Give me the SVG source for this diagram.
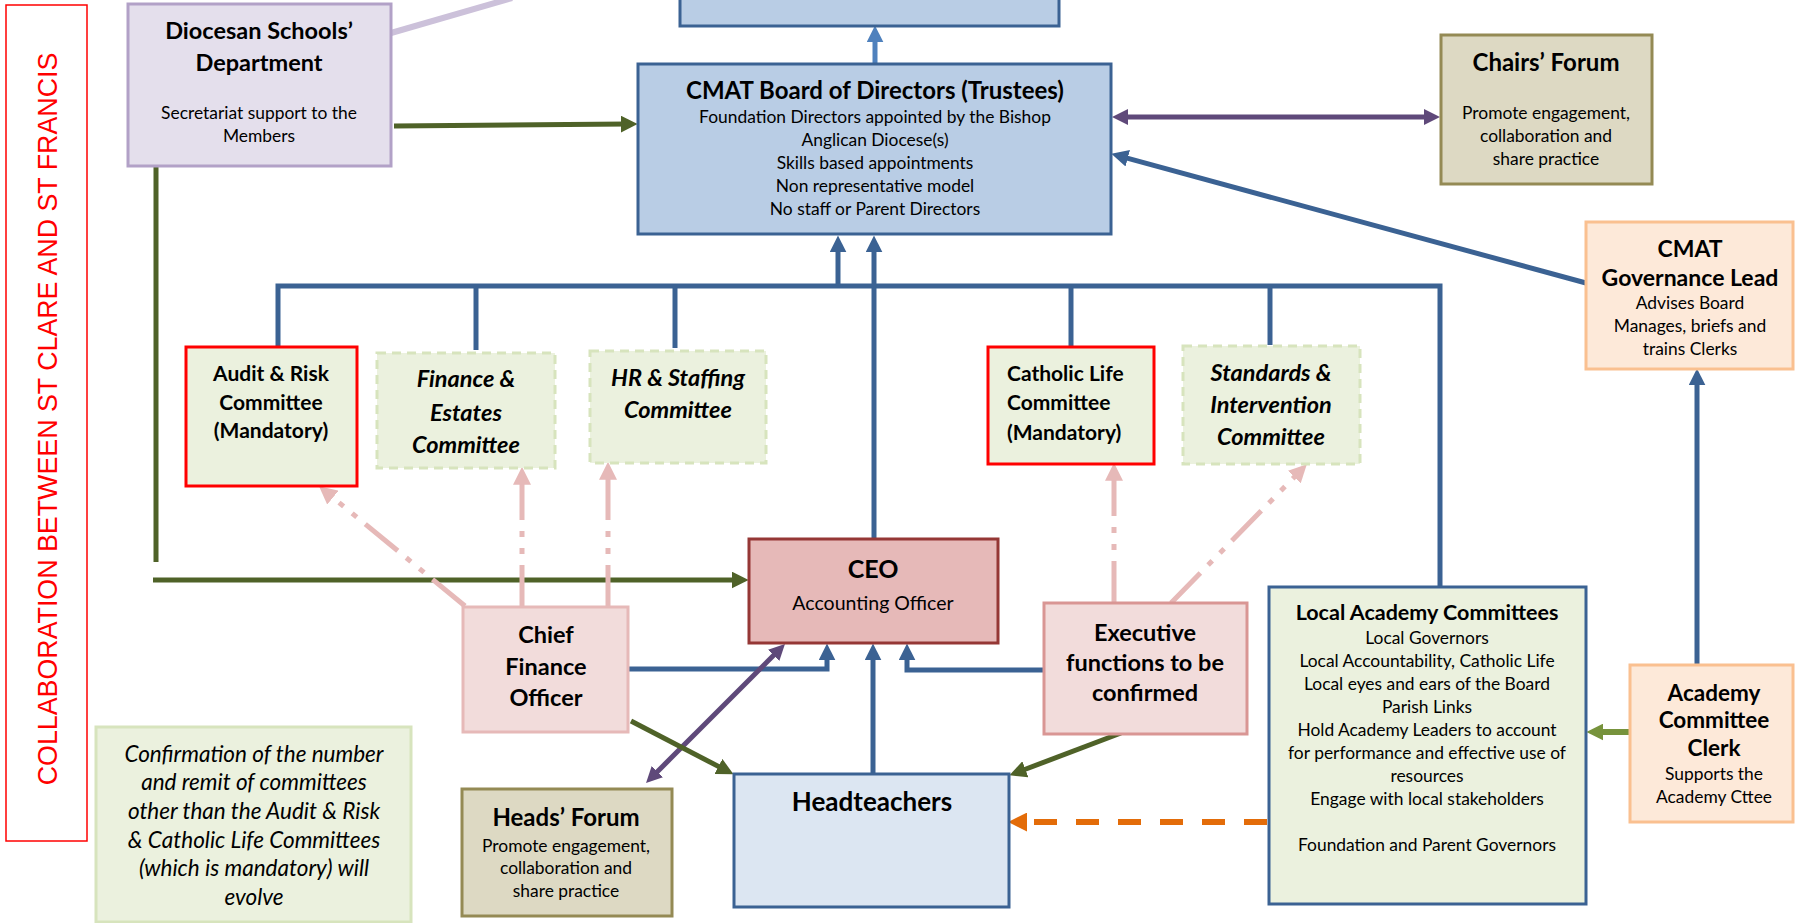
<svg xmlns="http://www.w3.org/2000/svg" width="1795" height="923" viewBox="0 0 1795 923">
<defs>
<style>
.t{font-family:Lato,"Liberation Sans",sans-serif;fill:#000;text-anchor:middle}
.b{font-weight:bold}
.i{font-style:italic}
.s16{font-size:17.4px}
.box{stroke-width:3}
.blue{fill:none;stroke:#3B6293;stroke-width:5}
.green{fill:none;stroke:#4F6228;stroke-width:5}
.purple{fill:none;stroke:#5F497A;stroke-width:5}
.pink{fill:none;stroke:#E6B9B8;stroke-width:5;stroke-dasharray:42 11 6 11 6 11}
</style>
<marker id="mBlue" viewBox="0 0 16 16" refX="6" refY="8" markerWidth="17" markerHeight="17" markerUnits="userSpaceOnUse" orient="auto-start-reverse"><path d="M0,0 L16,8 L0,16 z" fill="#3B6293"/></marker>
<marker id="mLBlue" viewBox="0 0 16 16" refX="6" refY="8" markerWidth="17" markerHeight="17" markerUnits="userSpaceOnUse" orient="auto-start-reverse"><path d="M0,0 L16,8 L0,16 z" fill="#4F81BD"/></marker>
<marker id="mGreen" viewBox="0 0 16 16" refX="6" refY="8" markerWidth="17" markerHeight="17" markerUnits="userSpaceOnUse" orient="auto-start-reverse"><path d="M0,0 L16,8 L0,16 z" fill="#4F6228"/></marker>
<marker id="mLGreen" viewBox="0 0 16 16" refX="6" refY="8" markerWidth="17" markerHeight="17" markerUnits="userSpaceOnUse" orient="auto-start-reverse"><path d="M0,0 L16,8 L0,16 z" fill="#77933C"/></marker>
<marker id="mPurple" viewBox="0 0 16 16" refX="6" refY="8" markerWidth="16" markerHeight="16" markerUnits="userSpaceOnUse" orient="auto-start-reverse"><path d="M0,0 L16,8 L0,16 z" fill="#5F497A"/></marker>
<marker id="mPink" viewBox="0 0 16 16" refX="6" refY="8" markerWidth="18" markerHeight="18" markerUnits="userSpaceOnUse" orient="auto-start-reverse"><path d="M0,0 L16,8 L0,16 z" fill="#E6B9B8"/></marker>
<marker id="mOrange" viewBox="0 0 16 16" refX="6" refY="8" markerWidth="19" markerHeight="19" markerUnits="userSpaceOnUse" orient="auto-start-reverse"><path d="M0,0 L16,8 L0,16 z" fill="#E36C09"/></marker>
</defs>
<rect width="1795" height="923" fill="#FFFFFF"/>

<g id="connectors">
<line x1="391" y1="33" x2="512" y2="-2" stroke="#CCC1DA" stroke-width="6"/>
<line x1="875" y1="64" x2="875" y2="36" stroke="#4F81BD" stroke-width="5" marker-end="url(#mLBlue)"/>
<line x1="394" y1="126" x2="627" y2="124" class="green" marker-end="url(#mGreen)"/>
<line x1="1122" y1="117" x2="1430" y2="117" class="purple" marker-start="url(#mPurple)" marker-end="url(#mPurple)"/>
<line x1="1586" y1="283" x2="1121.6" y2="156.6" class="blue" marker-end="url(#mBlue)"/>
<path d="M278,346 V286 H1440 V587" class="blue"/>
<line x1="476" y1="286" x2="476" y2="350" class="blue"/>
<line x1="675" y1="286" x2="675" y2="348" class="blue"/>
<line x1="1071" y1="286" x2="1071" y2="347" class="blue"/>
<line x1="1270" y1="286" x2="1270" y2="345" class="blue"/>
<line x1="838" y1="286" x2="838" y2="246" class="blue" marker-end="url(#mBlue)"/>
<line x1="874" y1="539" x2="874" y2="246" class="blue" marker-end="url(#mBlue)"/>
<line x1="156" y1="166" x2="156" y2="562" class="green"/>
<line x1="153" y1="580" x2="738" y2="580" class="green" marker-end="url(#mGreen)"/>
<line x1="465" y1="606" x2="327.7" y2="493.3" class="pink" marker-end="url(#mPink)"/>
<line x1="522" y1="607" x2="522" y2="478" class="pink" marker-end="url(#mPink)"/>
<line x1="608" y1="607" x2="608" y2="473" class="pink" marker-end="url(#mPink)"/>
<line x1="1114" y1="603" x2="1114" y2="474" class="pink" marker-end="url(#mPink)"/>
<line x1="1171" y1="603" x2="1299" y2="472.2" class="pink" marker-end="url(#mPink)"/>
<path d="M628,669 H827 V654" class="blue" marker-end="url(#mBlue)"/>
<line x1="873" y1="774" x2="873" y2="654" class="blue" marker-end="url(#mBlue)"/>
<path d="M1044,670 H907 V654" class="blue" marker-end="url(#mBlue)"/>
<line x1="653.1" y1="775.9" x2="777.9" y2="651.1" class="purple" marker-start="url(#mPurple)" marker-end="url(#mPurple)"/>
<line x1="631" y1="721" x2="724.1" y2="769.4" class="green" marker-end="url(#mGreen)"/>
<line x1="1121" y1="733" x2="1019.4" y2="771.5" class="green" marker-end="url(#mGreen)"/>
<line x1="1267" y1="822" x2="1020" y2="822" stroke="#E36C09" stroke-width="6" stroke-dasharray="23 19" marker-end="url(#mOrange)"/>
<line x1="1629" y1="732" x2="1597" y2="732" stroke="#77933C" stroke-width="6" marker-end="url(#mLGreen)"/>
<line x1="1697" y1="664" x2="1697" y2="379" class="blue" marker-end="url(#mBlue)"/>
</g>

<g id="collab">
<rect x="6" y="5" width="81" height="836" fill="none" stroke="#FF0000" stroke-width="1.5"/>
<g transform="translate(57,419) rotate(-90)">
<text x="0" y="0" font-family="'Liberation Sans',sans-serif" font-size="26.8" fill="#FF0000" text-anchor="middle">COLLABORATION BETWEEN ST CLARE AND ST FRANCIS</text>
</g>
</g>

<g id="top-box">
<rect x="680" y="-4" width="379" height="30" fill="#B9CDE5" stroke="#3B6293" class="box"/>
</g>

<g id="diocesan">
<rect x="128" y="4" width="263" height="162" fill="#E4DFEC" stroke="#B2A1C7" class="box"/>
<text class="t b" font-size="23.5" x="259" y="39">Diocesan Schools’</text>
<text class="t b" font-size="23.5" x="259" y="71">Department</text>
<text class="t s16" x="259" y="119">Secretariat support to the</text>
<text class="t s16" x="259" y="142">Members</text>
</g>

<g id="board">
<rect x="638" y="64" width="473" height="170" fill="#B9CDE5" stroke="#3B6293" class="box"/>
<text class="t b" font-size="24" x="875" y="99">CMAT Board of Directors (Trustees)</text>
<text class="t s16" x="875" y="123">Foundation Directors appointed by the Bishop</text>
<text class="t s16" x="875" y="146">Anglican Diocese(s)</text>
<text class="t s16" x="875" y="169">Skills based appointments</text>
<text class="t s16" x="875" y="192">Non representative model</text>
<text class="t s16" x="875" y="215">No staff or Parent Directors</text>
</g>

<g id="chairs-forum">
<rect x="1441" y="35" width="211" height="149" fill="#DDD9C3" stroke="#948A54" class="box"/>
<text class="t b" font-size="24" x="1546" y="71">Chairs’ Forum</text>
<text class="t s16" x="1546" y="119">Promote engagement,</text>
<text class="t s16" x="1546" y="142">collaboration and</text>
<text class="t s16" x="1546" y="165">share practice</text>
</g>

<g id="gov-lead">
<rect x="1586" y="222" width="207" height="147" fill="#FDE9D9" stroke="#FAC090" class="box"/>
<text class="t b" font-size="23" x="1690" y="257">CMAT</text>
<text class="t b" font-size="23" x="1690" y="286">Governance Lead</text>
<text class="t s16" x="1690" y="309">Advises Board</text>
<text class="t s16" x="1690" y="332">Manages, briefs and</text>
<text class="t s16" x="1690" y="355">trains Clerks</text>
</g>

<g id="audit-risk">
<rect x="186" y="347" width="171" height="139" fill="#EBF1DE" stroke="#FF0000" class="box"/>
<text class="t b" font-size="21" x="271" y="381">Audit &amp; Risk</text>
<text class="t b" font-size="21" x="271" y="410">Committee</text>
<text class="t b" font-size="21" x="271" y="438">(Mandatory)</text>
</g>

<g id="finance-estates">
<rect x="377" y="353" width="178" height="115" fill="#EBF1DE" stroke="#D7E4BD" stroke-dasharray="9 6" class="box"/>
<text class="t b i" font-size="23.5" x="466" y="387">Finance &amp;</text>
<text class="t b i" font-size="23.5" x="466" y="421">Estates</text>
<text class="t b i" font-size="23.5" x="466" y="453">Committee</text>
</g>

<g id="hr-staffing">
<rect x="590" y="351" width="176" height="112" fill="#EBF1DE" stroke="#D7E4BD" stroke-dasharray="9 6" class="box"/>
<text class="t b i" font-size="23.5" x="678" y="386">HR &amp; Staffing</text>
<text class="t b i" font-size="23.5" x="678" y="418">Committee</text>
</g>

<g id="catholic-life">
<rect x="988" y="347" width="166" height="117" fill="#EBF1DE" stroke="#FF0000" class="box"/>
<text class="t b" font-size="21" x="1007" y="381" style="text-anchor:start">Catholic Life</text>
<text class="t b" font-size="21" x="1007" y="410" style="text-anchor:start">Committee</text>
<text class="t b" font-size="21" x="1007" y="440" style="text-anchor:start">(Mandatory)</text>
</g>

<g id="standards">
<rect x="1183" y="346" width="177" height="118" fill="#EBF1DE" stroke="#D7E4BD" stroke-dasharray="9 6" class="box"/>
<text class="t b i" font-size="23.5" x="1271" y="381">Standards &amp;</text>
<text class="t b i" font-size="23.5" x="1271" y="413">Intervention</text>
<text class="t b i" font-size="23.5" x="1271" y="445">Committee</text>
</g>

<g id="ceo">
<rect x="749" y="539" width="249" height="104" fill="#E6B9B8" stroke="#953735" class="box"/>
<text class="t b" font-size="25" x="873" y="578">CEO</text>
<text class="t" font-size="19.5" x="873" y="610">Accounting Officer</text>
</g>

<g id="cfo">
<rect x="463" y="607" width="165" height="125" fill="#F2DCDB" stroke="#E6B9B8" class="box"/>
<text class="t b" font-size="23.5" x="546" y="643">Chief</text>
<text class="t b" font-size="23.5" x="546" y="675">Finance</text>
<text class="t b" font-size="23.5" x="546" y="706">Officer</text>
</g>

<g id="executive">
<rect x="1044" y="603" width="203" height="131" fill="#F2DCDB" stroke="#D99694" class="box"/>
<text class="t b" font-size="23.5" x="1145" y="641">Executive</text>
<text class="t b" font-size="23.5" x="1145" y="671">functions to be</text>
<text class="t b" font-size="23.5" x="1145" y="701">confirmed</text>
</g>

<g id="headteachers">
<rect x="734" y="774" width="275" height="133" fill="#DCE6F2" stroke="#3B6293" class="box"/>
<text class="t b" font-size="26" x="872" y="811">Headteachers</text>
</g>

<g id="heads-forum">
<rect x="462" y="789" width="210" height="127" fill="#DDD9C3" stroke="#948A54" class="box"/>
<text class="t b" font-size="24" x="566" y="826">Heads’ Forum</text>
<text class="t s16" x="566" y="852">Promote engagement,</text>
<text class="t s16" x="566" y="874">collaboration and</text>
<text class="t s16" x="566" y="897">share practice</text>
</g>

<g id="confirmation-note">
<rect x="96" y="727" width="315" height="195" fill="#EBF1DE" stroke="#D7E4BD" class="box"/>
<text class="t i" font-size="22.5" x="254" y="762">Confirmation of the number</text>
<text class="t i" font-size="22.5" x="254" y="790">and remit of committees</text>
<text class="t i" font-size="22.5" x="254" y="819">other than the Audit &amp; Risk</text>
<text class="t i" font-size="22.5" x="254" y="848">&amp; Catholic Life Committees</text>
<text class="t i" font-size="22.5" x="254" y="876">(which is mandatory) will</text>
<text class="t i" font-size="22.5" x="254" y="905">evolve</text>
</g>

<g id="local-academy">
<rect x="1269" y="587" width="317" height="317" fill="#EBF1DE" stroke="#3B6293" class="box"/>
<text class="t b" font-size="21.5" x="1427" y="620">Local Academy Committees</text>
<text class="t s16" x="1427" y="644">Local Governors</text>
<text class="t s16" x="1427" y="667">Local Accountability, Catholic Life</text>
<text class="t s16" x="1427" y="690">Local eyes and ears of the Board</text>
<text class="t s16" x="1427" y="713">Parish Links</text>
<text class="t s16" x="1427" y="736">Hold Academy Leaders to account</text>
<text class="t s16" x="1427" y="759">for performance and effective use of</text>
<text class="t s16" x="1427" y="782">resources</text>
<text class="t s16" x="1427" y="805">Engage with local stakeholders</text>
<text class="t s16" x="1427" y="851">Foundation and Parent Governors</text>
</g>

<g id="clerk">
<rect x="1630" y="665" width="163" height="157" fill="#FDE9D9" stroke="#FAC090" class="box"/>
<text class="t b" font-size="22.5" x="1714" y="701">Academy</text>
<text class="t b" font-size="22.5" x="1714" y="728">Committee</text>
<text class="t b" font-size="22.5" x="1714" y="756">Clerk</text>
<text class="t s16" x="1714" y="780">Supports the</text>
<text class="t s16" x="1714" y="803">Academy Cttee</text>
</g>
</svg>
